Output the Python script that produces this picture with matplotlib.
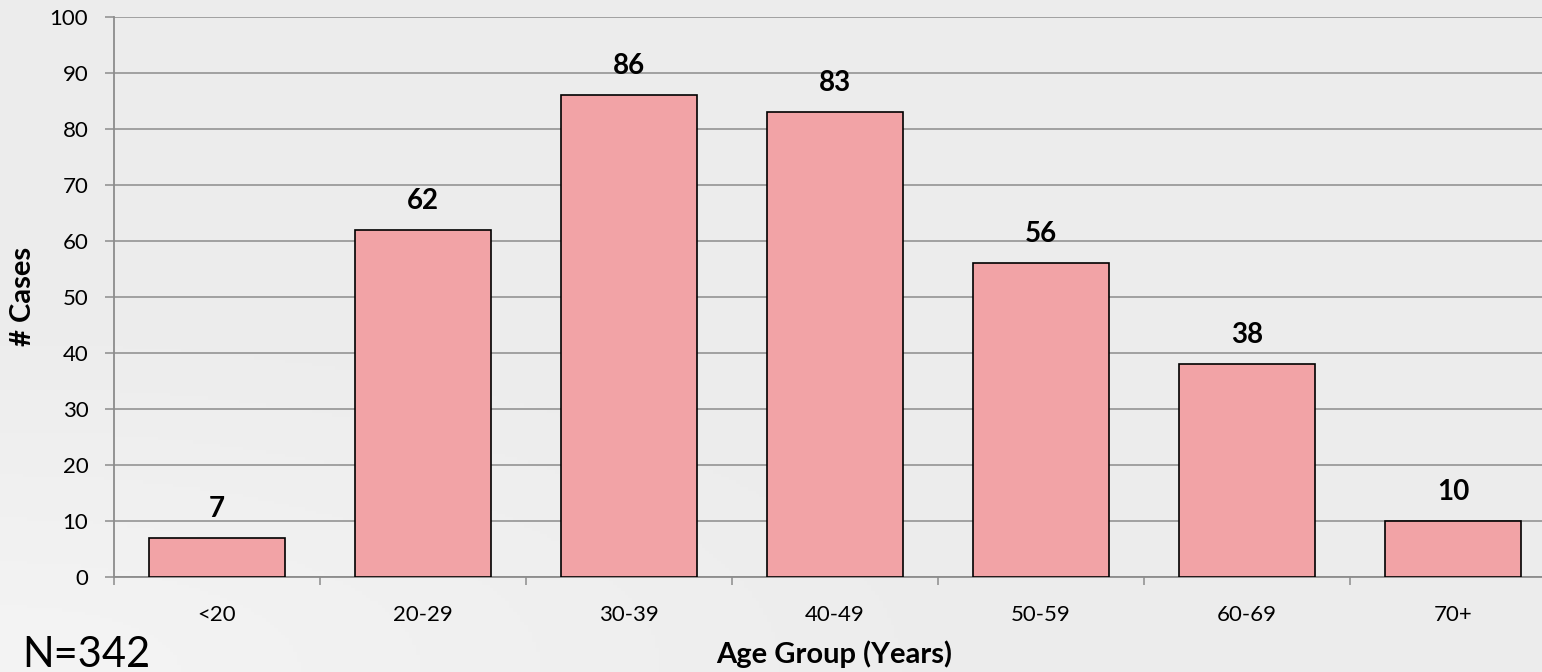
import matplotlib
matplotlib.use("Agg")
import matplotlib.pyplot as plt
import numpy as np

categories = ["<20", "20-29", "30-39", "40-49", "50-59", "60-69", "70+"]
cases = [7, 62, 86, 83, 56, 38, 10]
y_ticks = [0, 10, 20, 30, 40, 50, 60, 70, 80, 90, 100]

W, H = 1542, 672
fig = plt.figure(figsize=(W / 100, H / 100), dpi=100)
fig.patch.set_facecolor("#ececec")

# subtle background gradient
bg = fig.add_axes([0, 0, 1, 1], zorder=-10)
yy, xx = np.mgrid[0:1:200j, 0:1:400j]
d = np.sqrt((xx * 1.0) ** 2 + ((1 - yy) * 1.2) ** 2)
g = np.clip(d / 0.6, 0, 1)
img = 0.955 - 0.03 * g
bg.imshow(img, cmap="gray", vmin=0, vmax=1, extent=[0, 1, 0, 1], aspect="auto", origin="upper")
bg.axis("off")

FONT = "Lato"
ax = fig.add_axes([114 / W, 1 - 577 / H, (1556 - 114) / W, (577 - 17) / H])
ax.set_facecolor("none")

x = np.arange(len(categories))
bars = ax.bar(x, cases, width=0.665, color="#f2a3a6", edgecolor="black", linewidth=1.2, zorder=3)

for xi, v in zip(x, cases):
    ax.annotate(str(v), (xi, v), xytext=(0, 21), textcoords="offset points",
                ha="center", va="center", fontsize=20, fontweight="bold", family=FONT, zorder=4)

ax.set_xlim(-0.5, len(categories) - 0.5)
ax.set_ylim(0, 100)
ax.set_yticks(y_ticks)
ax.yaxis.grid(True, color="#8c8c8c", linewidth=1.1, zorder=1)
ax.set_axisbelow(True)

for s in ["top", "right"]:
    ax.spines[s].set_visible(False)
for s in ["left", "bottom"]:
    ax.spines[s].set_color("#8c8c8c")
    ax.spines[s].set_linewidth(1.3)
    ax.spines[s].set_zorder(2)

ax.tick_params(axis="y", length=6.5, width=1.1, color="#8c8c8c", pad=12, labelsize=16)
ax.set_xticks(x)
ax.set_xticklabels(categories)
ax.tick_params(axis="x", which="major", length=0, pad=20, labelsize=16)
ax.set_xticks(np.arange(-0.5, len(categories) - 0.5, 1.0), minor=True)
ax.tick_params(axis="x", which="minor", length=6, width=1.1, color="#8c8c8c")
for lbl in ax.get_xticklabels() + ax.get_yticklabels():
    lbl.set_family(FONT)

fig.text((712 + 957) / 2 / W, 1 - 663 / H, "Age Group (Years)", ha="center", va="baseline",
         fontsize=21, fontweight="bold", family=FONT)
fig.text(23 / W, 1 - 296 / H, "# Cases", ha="center", va="center", rotation=90,
         fontsize=21, fontweight="bold", family=FONT)
fig.text(22 / W, 1 - 667 / H, "N=342", ha="left", va="baseline", fontsize=30, family=FONT)

fig.savefig("out.png", dpi=100, facecolor=fig.get_facecolor())
